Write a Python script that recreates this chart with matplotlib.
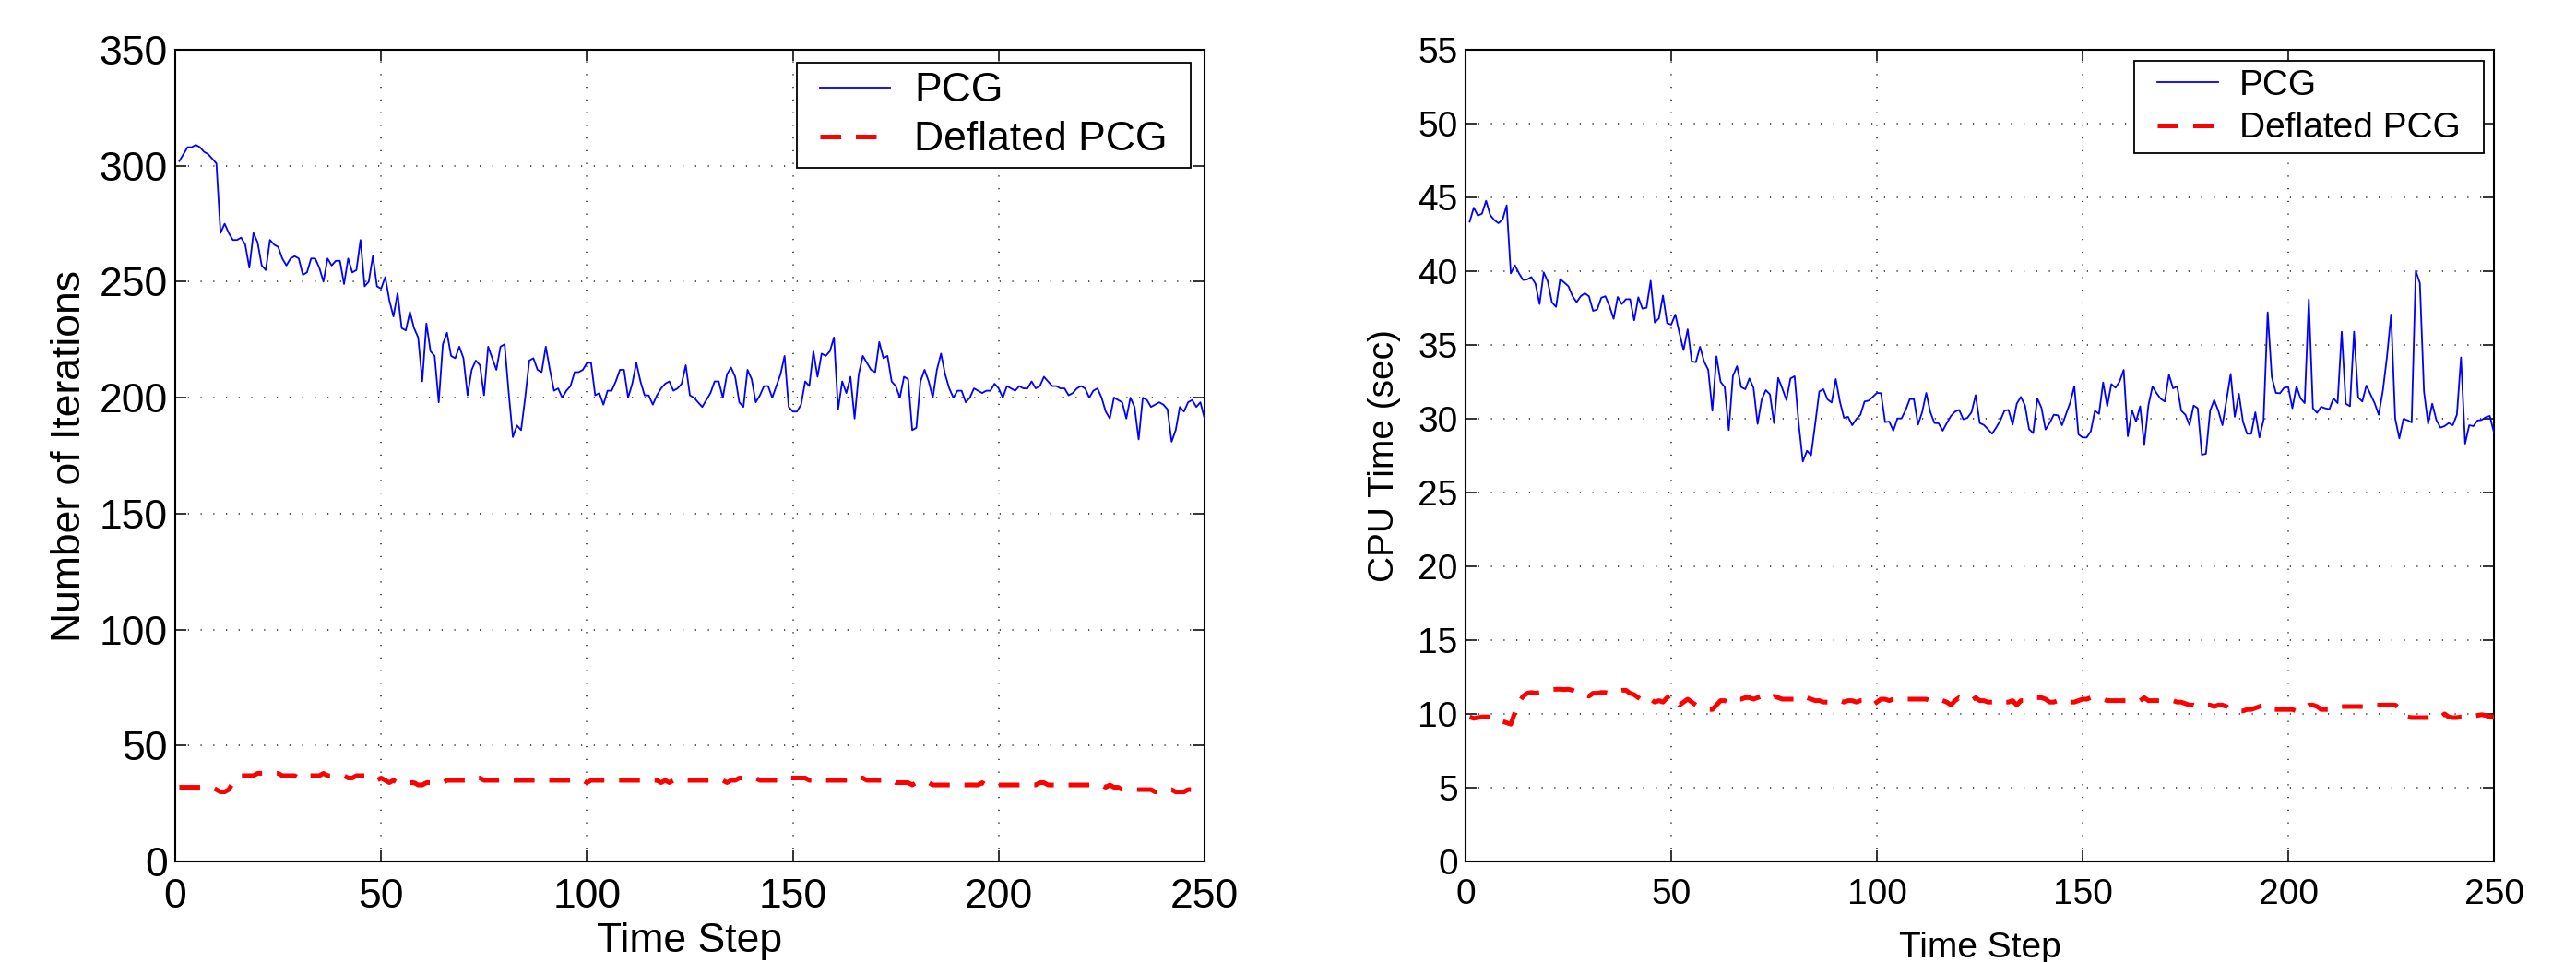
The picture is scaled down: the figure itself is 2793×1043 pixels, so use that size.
import matplotlib
matplotlib.use('Agg')
import matplotlib.pyplot as plt
from matplotlib.patches import Rectangle

time_steps = list(range(1, 251))

pcg_iterations = [
    302, 305, 308, 308, 309, 308, 306, 305, 303, 301,
    271, 275, 271, 268, 268, 269, 266, 256, 271, 267,
    257, 255, 268, 266, 265, 260, 257, 260, 261, 260,
    253, 254, 260, 260, 256, 250, 260, 257, 259, 259,
    249, 260, 254, 255, 268, 248, 250, 261, 248, 247,
    252, 242, 235, 245, 230, 229, 237, 230, 226, 207,
    232, 220, 218, 198, 223, 228, 218, 217, 222, 217,
    201, 212, 216, 214, 201, 222, 217, 212, 222, 223,
    202, 183, 188, 186, 200, 216, 217, 212, 211, 222,
    212, 203, 204, 200, 203, 205, 211, 211, 212, 215,
    215, 201, 202, 197, 203, 203, 207, 212, 212, 200,
    206, 215, 207, 201, 201, 197, 201, 204, 206, 207,
    203, 204, 206, 214, 201, 200, 198, 196, 199, 202,
    207, 207, 200, 210, 213, 209, 198, 196, 212, 208,
    198, 201, 205, 205, 200, 205, 210, 218, 196, 194,
    194, 197, 207, 205, 220, 209, 219, 218, 220, 226,
    195, 207, 202, 209, 191, 210, 218, 215, 212, 211,
    224, 217, 218, 207, 205, 200, 209, 208, 186, 187,
    207, 212, 207, 200, 212, 219, 210, 204, 200, 203,
    203, 198, 200, 204, 203, 202, 203, 203, 206, 204,
    200, 205, 204, 203, 205, 204, 204, 207, 204, 205,
    209, 207, 205, 205, 204, 204, 201, 202, 204, 205,
    204, 200, 203, 204, 200, 194, 191, 200, 199, 198,
    191, 200, 196, 182, 200, 199, 196, 197, 198, 197,
    195, 181, 186, 196, 194, 198, 199, 196, 198, 191,
]

deflated_iterations = [
    32, 32, 32, 32, 32, 32, 32, 32, 32, 31,
    30, 30, 31, 34, 36, 37, 37, 37, 37, 38,
    38, 38, 38, 38, 38, 37, 37, 37, 37, 36,
    36, 37, 37, 37, 37, 38, 37, 37, 37, 37,
    37, 36, 36, 37, 37, 37, 36, 36, 35, 36,
    35, 34, 35, 34, 34, 34, 34, 34, 33, 33,
    34, 34, 34, 34, 34, 35, 35, 35, 35, 35,
    35, 35, 36, 36, 35, 35, 35, 35, 35, 35,
    35, 35, 35, 35, 35, 35, 35, 35, 35, 35,
    35, 35, 35, 35, 35, 35, 35, 35, 35, 34,
    35, 35, 35, 35, 35, 35, 35, 35, 35, 35,
    35, 35, 35, 35, 35, 35, 35, 34, 35, 34,
    35, 35, 35, 35, 35, 35, 35, 35, 35, 35,
    35, 35, 35, 34, 35, 35, 36, 36, 36, 36,
    36, 35, 35, 35, 35, 35, 35, 36, 36, 36,
    36, 36, 36, 35, 35, 35, 35, 35, 35, 35,
    35, 35, 35, 35, 35, 36, 36, 35, 35, 35,
    35, 35, 35, 35, 34, 34, 34, 34, 33, 34,
    34, 34, 34, 33, 33, 33, 33, 33, 33, 33,
    33, 33, 33, 33, 33, 34, 33, 33, 33, 33,
    33, 33, 33, 33, 33, 33, 33, 33, 33, 34,
    34, 33, 33, 33, 33, 33, 33, 33, 33, 33,
    33, 33, 33, 33, 33, 32, 33, 32, 32, 31,
    31, 31, 31, 31, 31, 31, 31, 30, 30, 31,
    31, 31, 30, 30, 30, 31, 31, 31, 30, 30,
]

pcg_cpu = [
    43.35, 44.30, 43.77, 43.90, 44.77, 43.80, 43.46, 43.25, 43.50, 44.46,
    39.85, 40.40, 39.85, 39.40, 39.44, 39.60, 39.15, 37.77, 39.92, 39.30,
    37.88, 37.58, 39.46, 39.23, 38.98, 38.31, 37.90, 38.30, 38.50, 38.30,
    37.31, 37.40, 38.20, 38.30, 37.63, 36.77, 38.25, 37.77, 38.10, 38.10,
    36.67, 38.23, 37.46, 37.52, 39.35, 36.52, 36.80, 38.35, 36.48, 36.38,
    37.06, 35.80, 34.65, 36.06, 33.88, 33.83, 34.88, 33.88, 33.31, 30.54,
    34.23, 32.50, 32.15, 29.23, 32.90, 33.56, 32.15, 32.00, 32.73, 32.10,
    29.65, 31.31, 31.94, 31.65, 29.70, 32.77, 32.06, 31.27, 32.73, 32.88,
    29.65, 27.10, 27.83, 27.52, 29.65, 31.85, 32.00, 31.31, 31.10, 32.69,
    31.17, 30.06, 30.13, 29.56, 29.98, 30.27, 31.17, 31.23, 31.48, 31.75,
    31.73, 29.77, 29.81, 29.19, 30.02, 30.02, 30.60, 31.33, 31.33, 29.60,
    30.44, 31.75, 30.44, 29.71, 29.69, 29.19, 29.71, 30.19, 30.48, 30.60,
    29.96, 30.06, 30.44, 31.60, 29.71, 29.58, 29.29, 28.98, 29.40, 29.88,
    30.54, 30.60, 29.60, 31.02, 31.48, 30.90, 29.29, 29.02, 31.38, 30.75,
    29.27, 29.71, 30.27, 30.23, 29.56, 30.33, 31.10, 32.21, 28.94, 28.73,
    28.73, 29.15, 30.54, 30.33, 32.46, 30.85, 32.35, 32.10, 32.52, 33.31,
    28.81, 30.58, 29.81, 30.85, 28.21, 30.90, 32.19, 31.73, 31.35, 31.17,
    32.98, 32.06, 32.19, 30.54, 30.27, 29.56, 30.90, 30.71, 27.56, 27.63,
    30.54, 31.27, 30.54, 29.56, 31.27, 33.04, 30.13, 31.69, 29.80, 28.98,
    28.98, 30.44, 28.73, 29.92, 37.21, 32.83, 31.75, 31.73, 32.10, 32.15,
    30.71, 32.19, 31.38, 31.06, 38.08, 30.71, 30.40, 30.81, 30.71, 30.65,
    31.38, 31.06, 35.90, 31.02, 30.85, 35.90, 31.44, 31.17, 32.25, 31.65,
    31.06, 30.27, 31.90, 34.19, 37.06, 30.02, 28.67, 29.98, 29.90, 29.75,
    40.02, 39.19, 31.85, 29.65, 31.02, 29.92, 29.40, 29.50, 29.71, 29.56,
    30.27, 34.15, 28.31, 29.56, 29.50, 29.88, 29.92, 30.10, 30.19, 29.08,
]

deflated_cpu = [
    9.80, 9.70, 9.75, 9.80, 9.80, 9.80, 9.85, 9.60, 9.50, 9.40,
    9.30, 10.10, 10.80, 11.20, 11.40, 11.45, 11.40, 11.45, 11.50, 11.60,
    11.65, 11.67, 11.67, 11.65, 11.67, 11.60, 11.50, 11.30, 11.30, 11.20,
    11.40, 11.40, 11.45, 11.45, 11.40, 11.50, 11.55, 11.60, 11.60, 11.40,
    11.30, 11.10, 10.90, 11.10, 11.00, 10.80, 10.90, 10.80, 11.10, 11.30,
    10.90, 10.60, 10.80, 11.00, 10.80, 10.60, 10.50, 10.40, 10.30, 10.30,
    10.60, 10.90, 10.90, 10.80, 11.00, 11.00, 11.00, 11.10, 11.10, 11.00,
    11.10, 11.20, 11.10, 11.00, 11.20, 11.10, 11.00, 11.00, 11.00, 11.00,
    11.10, 11.00, 11.10, 11.00, 10.90, 10.90, 10.80, 10.80, 10.90, 10.90,
    10.90, 10.80, 10.90, 10.90, 10.80, 10.90, 10.90, 10.80, 10.60, 10.80,
    11.00, 11.00, 10.90, 11.00, 11.00, 10.90, 11.00, 11.00, 11.00, 11.00,
    11.00, 11.00, 10.90, 10.90, 11.00, 10.90, 10.80, 10.60, 10.90, 11.10,
    11.00, 10.90, 10.90, 11.10, 10.90, 10.90, 10.80, 10.80, 10.90, 10.90,
    10.80, 10.80, 10.90, 10.60, 10.90, 10.90, 11.00, 11.10, 11.10, 11.10,
    11.00, 10.80, 10.80, 10.90, 10.80, 10.70, 10.80, 10.80, 10.90, 11.00,
    11.00, 11.10, 11.10, 11.10, 11.00, 10.90, 10.90, 10.90, 10.90, 10.90,
    10.90, 10.90, 10.90, 10.90, 11.10, 10.90, 10.90, 10.90, 10.90, 10.90,
    10.90, 10.90, 10.80, 10.80, 10.70, 10.60, 10.60, 10.50, 10.60, 10.60,
    10.60, 10.50, 10.60, 10.60, 10.50, 10.30, 10.30, 10.20, 10.20, 10.30,
    10.30, 10.40, 10.50, 10.60, 10.40, 10.30, 10.30, 10.30, 10.30, 10.30,
    10.30, 10.20, 10.20, 10.40, 10.60, 10.60, 10.50, 10.30, 10.30, 10.30,
    10.30, 10.40, 10.50, 10.50, 10.50, 10.50, 10.50, 10.50, 10.50, 10.60,
    10.60, 10.60, 10.60, 10.60, 10.60, 10.60, 10.40, 10.10, 9.80, 9.75,
    9.75, 9.75, 9.75, 9.75, 9.75, 9.80, 9.75, 10.00, 9.80, 9.75,
    9.75, 9.80, 9.80, 9.85, 9.85, 9.90, 9.95, 9.90, 9.80, 9.80,
]

x_ticks = [0, 50, 100, 150, 200, 250]
iter_ticks = [0, 50, 100, 150, 200, 250, 300, 350]
cpu_ticks = [0, 5, 10, 15, 20, 25, 30, 35, 40, 45, 50, 55]
series_labels = ['PCG', 'Deflated PCG']

plt.rcParams['font.family'] = ['Liberation Sans', 'DejaVu Sans']

W, H = 2793, 1043
fig = plt.figure(figsize=(W / 100, H / 100), dpi=100)


def rect(l, r, t, b):
    return [l / W, 1 - b / H, (r - l) / W, (b - t) / H]


ax1 = fig.add_axes(rect(190, 1306, 54, 934))
ax2 = fig.add_axes(rect(1589, 2704, 54, 934))


def setup(ax, pcg, dpcg, yticks, ylabel, fs, xlabelpad, ylabelpad):
    l1, = ax.plot(time_steps, pcg, color='#0000ff', lw=1.3, zorder=3)
    l2, = ax.plot(time_steps, dpcg, color='#ff0000', lw=3.6,
                  dashes=(4.5, 3.2), zorder=3)
    ax.set_xlim(0, 250)
    ax.set_ylim(yticks[0], yticks[-1])
    ax.set_xticks(x_ticks)
    ax.set_yticks(yticks)
    ax.grid(True, color='#222222', linestyle=(0, (0.8, 8.2)), lw=1.1, zorder=1)
    ax.tick_params(direction='in', length=8.5, width=1.4, top=True,
                   right=True, labelsize=fs, color='#333333')
    ax.tick_params(axis='x', pad=13)
    ax.tick_params(axis='y', pad=6)
    for s in ax.spines.values():
        s.set_linewidth(1.5)
    ax.set_xlabel('Time Step', fontsize=fs, labelpad=xlabelpad)
    ax.set_ylabel(ylabel, fontsize=fs, labelpad=ylabelpad)
    return l1, l2


h1 = setup(ax1, pcg_iterations, deflated_iterations, iter_ticks,
           'Number of Iterations', 32, 5, 8.5)
h2 = setup(ax2, pcg_cpu, deflated_cpu, cpu_ticks,
           'CPU Time (sec)', 28, 15.5, 13)

BORDERPAD = 0.23


def legend_box(ax, handles, fs, frame):
    # frame = (left, right, top, bottom) in pixels from top-left
    fl, fr, ft, fb = frame
    fs_px = fs * 100 / 72
    inner = BORDERPAD * fs_px
    extra = 25 - inner
    leg = ax.legend(handles, series_labels, loc='upper right',
                    bbox_to_anchor=((fr - extra) / W, 1 - ft / H),
                    bbox_transform=fig.transFigure, borderaxespad=0,
                    frameon=False, borderpad=BORDERPAD, labelspacing=0.27,
                    handlelength=1.7, handletextpad=0.6, fontsize=fs)
    leg.set_zorder(6)
    return leg, extra


leg1, ex1 = legend_box(ax1, h1, 32, (859, 1291, 68, 181))
leg2, ex2 = legend_box(ax2, h2, 28, (2314, 2693, 66, 166))

fig.canvas.draw()
r = fig.canvas.get_renderer()
for ax, leg, ex in ((ax1, leg1, ex1), (ax2, leg2, ex2)):
    bb = leg.get_window_extent(r)
    x0 = (bb.x0 - ex) / W
    y0 = bb.y0 / H
    w = (bb.width + 2 * ex) / W
    h = bb.height / H
    patch = Rectangle((x0, y0), w, h, transform=fig.transFigure,
                      facecolor='white', edgecolor='black', lw=1.3,
                      zorder=5.5, clip_on=False)
    ax.add_artist(patch)

fig.savefig('out.png', dpi=100)
